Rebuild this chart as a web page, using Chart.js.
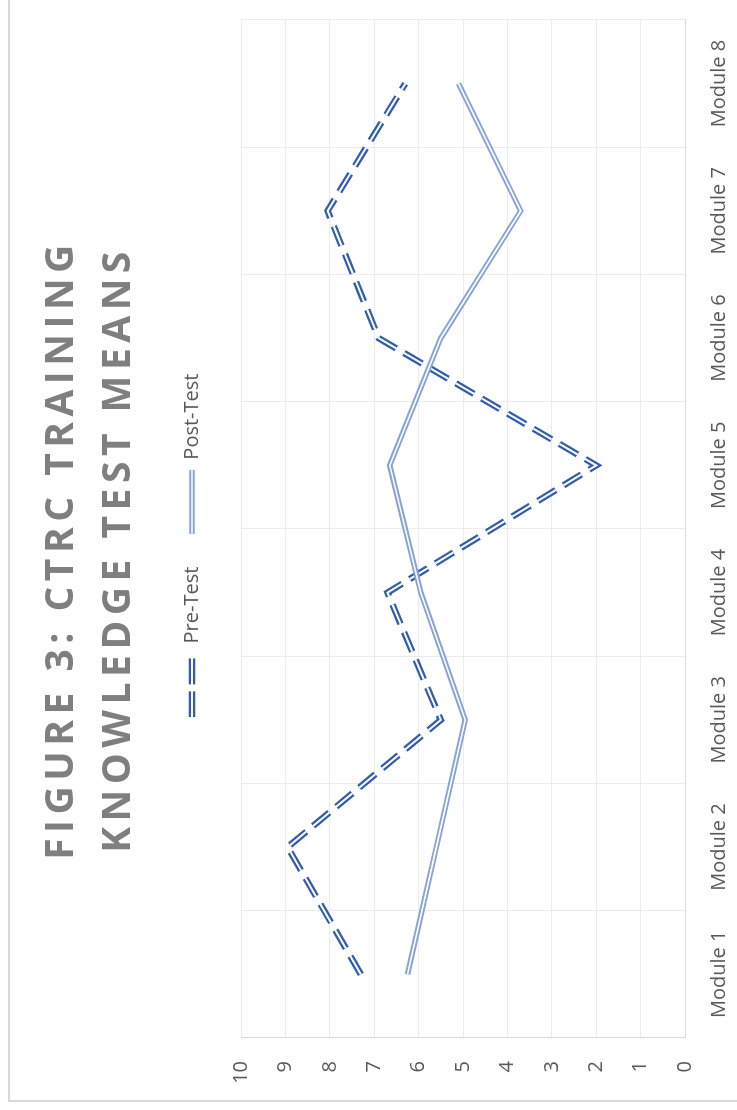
<!DOCTYPE html>
<html>
<head>
<meta charset="utf-8">
<script src="https://cdn.jsdelivr.net/npm/chart.js@4"></script>
<style>
html,body{margin:0;padding:0;background:#fff;width:737px;height:1110px;overflow:hidden;}
#frame{position:absolute;left:8px;top:-4px;width:900px;height:1104px;border-left:2px solid #d9d9d9;border-bottom:2px solid #d9d9d9;}
#wrap{position:absolute;left:0;top:0;width:1110px;height:737px;transform-origin:0 0;transform:translate(0,1110px) rotate(-90deg);}
</style>
</head>
<body>
<div id="frame"></div>
<div id="wrap"><canvas id="c" width="1110" height="737"></canvas></div>
<script>
const categories = ['Module 1','Module 2','Module 3','Module 4','Module 5','Module 6','Module 7','Module 8'];
const preTest  = [7.3, 8.95, 5.5, 6.7, 2.0, 6.9, 8.05, 6.3];
const postTest = [6.25, 5.6, 4.95, 5.95, 6.65, 5.5, 3.7, 5.1];
const valueMin = 0;
const valueMax = 10;
const valueStep = 1;
const titleLines = ['FIGURE 3: CTRC TRAINING', 'KNOWLEDGE TEST MEANS'];
const seriesNames = ['Pre-Test', 'Post-Test'];

const PRE_COLOR = '#335DAC';
const POST_COLOR = '#8AA3D8';
const PRE_DASH = [21, 9];
const FONT = 'Open Sans';

function makeSymbol(color, dash, outerW, innerW) {
  const c = document.createElement('canvas');
  c.width = 64; c.height = 10;
  const g = c.getContext('2d');
  g.lineCap = 'butt';
  g.setLineDash(dash);
  g.strokeStyle = color; g.lineWidth = outerW;
  g.beginPath(); g.moveTo(0, 5); g.lineTo(64, 5); g.stroke();
  g.strokeStyle = '#ffffff'; g.lineWidth = innerW;
  g.beginPath(); g.moveTo(0, 5); g.lineTo(64, 5); g.stroke();
  return c;
}
const preSym = makeSymbol(PRE_COLOR, [26, 7], 6.5, 2);
const postSym = makeSymbol(POST_COLOR, [], 5.5, 1.6);

const common = {fill:false, pointRadius:0, pointHoverRadius:0, tension:0, borderJoinStyle:'miter', borderCapStyle:'butt'};

const chart = new Chart(document.getElementById('c'), {
  type: 'line',
  data: {
    labels: categories,
    datasets: [
      Object.assign({label: seriesNames[0], data: preTest, borderColor: PRE_COLOR, borderWidth: 6.5, borderDash: PRE_DASH, order: 3}, common),
      Object.assign({label: seriesNames[0] + ' inner', data: preTest, borderColor: '#ffffff', borderWidth: 2, borderDash: PRE_DASH, order: 2}, common),
      Object.assign({label: seriesNames[1], data: postTest, borderColor: POST_COLOR, borderWidth: 5.5, order: 1}, common),
      Object.assign({label: seriesNames[1] + ' inner', data: postTest, borderColor: '#ffffff', borderWidth: 1.6, order: 0}, common)
    ]
  },
  options: {
    responsive: false,
    animation: false,
    devicePixelRatio: 1,
    layout: {padding: {left: 3, right: 20, top: 0, bottom: 0}},
    plugins: {
      tooltip: {enabled: false},
      title: {
        display: true,
        text: titleLines,
        color: '#7f7f7f',
        font: {family: FONT, size: 39, weight: 'bold', lineHeight: 57/39},
        padding: {top: 33, bottom: 2}
      },
      legend: {
        display: true,
        position: 'top',
        labels: {
          usePointStyle: true,
          pointStyleWidth: 64,
          boxWidth: 64,
          padding: 33,
          color: '#595959',
          font: {family: FONT, size: 20},
          generateLabels: function(ch) {
            return [
              {text: seriesNames[0], pointStyle: preSym, fillStyle: 'rgba(0,0,0,0)', strokeStyle: 'rgba(0,0,0,0)', lineWidth: 0, hidden: false, datasetIndex: 0, rotation: 0, fontColor: '#595959'},
              {text: seriesNames[1], pointStyle: postSym, fillStyle: 'rgba(0,0,0,0)', strokeStyle: 'rgba(0,0,0,0)', lineWidth: 0, hidden: false, datasetIndex: 2, rotation: 0, fontColor: '#595959'}
            ];
          }
        }
      }
    },
    scales: {
      x: {
        type: 'category',
        offset: true,
        grid: {color: '#ececec', offset: true, drawTicks: false, lineWidth: 1},
        border: {color: '#d9d9d9', width: 1},
        ticks: {padding: 22, color: '#595959', font: {family: FONT, size: 20}, maxRotation: 0, autoSkip: false},
        afterFit: function(s) { s.height = 52; }
      },
      y: {
        min: valueMin,
        max: valueMax,
        grid: {color: '#ececec', drawTicks: false, lineWidth: 1},
        border: {color: '#d9d9d9', width: 1},
        ticks: {stepSize: valueStep, padding: 23, color: '#595959', font: {family: FONT, size: 20}},
        afterFit: function(s) { s.width = 69; }
      }
    }
  }
});

// letter-spaced title, extra space under legend, legend centred on plot
const tb = chart.titleBlock;
const tDraw = tb.draw;
tb.draw = function() {
  const ctx = this.ctx;
  ctx.save();
  ctx.letterSpacing = '5.5px';
  ctx.translate(14, 0);
  tDraw.apply(this, arguments);
  ctx.restore();
};
const lg = chart.legend;
const lFit = lg.fit;
lg.fit = function() { lFit.apply(this, arguments); this.height += 29; };
const lDraw = lg.draw;
lg.draw = function() {
  const ctx = this.ctx;
  ctx.save();
  ctx.translate(18, 0);
  lDraw.apply(this, arguments);
  ctx.restore();
};
chart.update('none');
</script>
</body>
</html>
